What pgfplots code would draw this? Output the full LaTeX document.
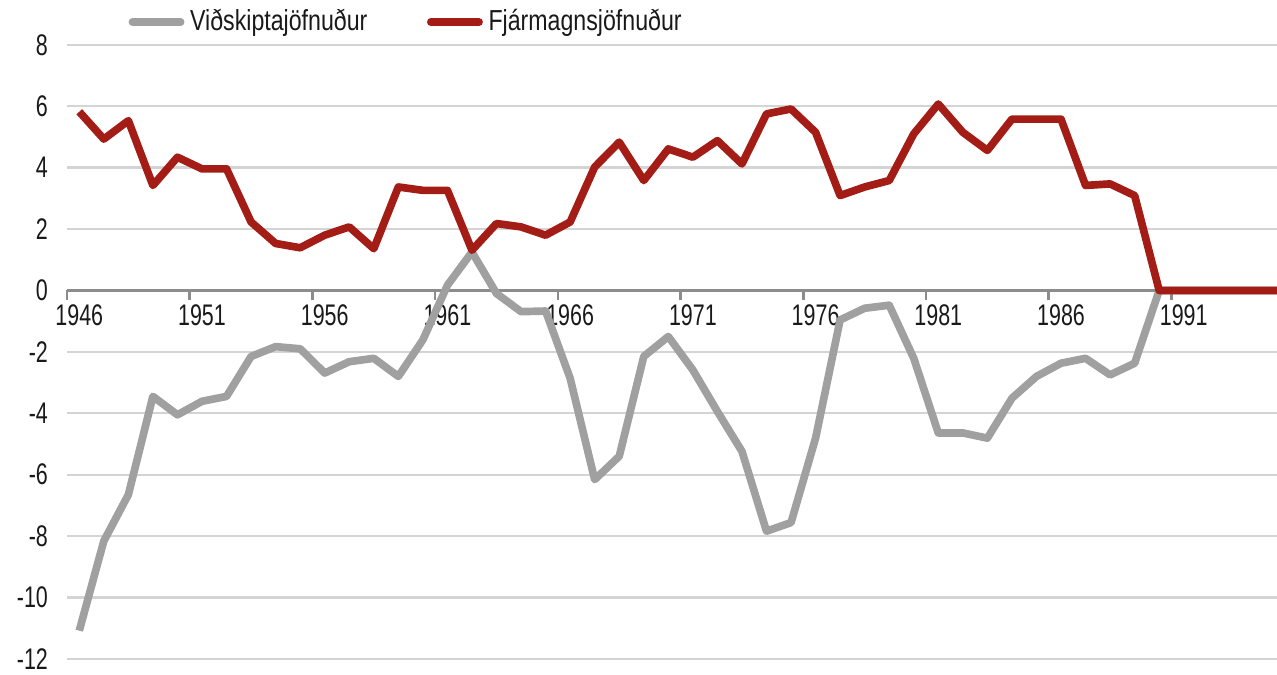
\documentclass[border=0pt]{standalone}
\usepackage{fontspec}
\setmainfont{Liberation Sans}[FakeStretch=0.72]
\newfontfamily\legfont{Liberation Sans}[FakeStretch=0.8]
\usepackage{pgfplots}
\usepackage{pgfplotstable}
\pgfplotsset{compat=1.18}
\definecolor{redline}{RGB}{163,28,22}
\definecolor{grayline}{RGB}{160,160,160}
\definecolor{gridc}{RGB}{212,212,212}
\definecolor{axisc}{RGB}{140,140,140}
\definecolor{txt}{RGB}{25,25,25}

\pgfplotstableread{
year val
1946 -11.08
1947 -8.16
1948 -6.65
1949 -3.45
1950 -4.05
1951 -3.61
1952 -3.45
1953 -2.15
1954 -1.83
1955 -1.90
1956 -2.69
1957 -2.32
1958 -2.21
1959 -2.80
1960 -1.61
1961 0.17
1962 1.25
1963 -0.10
1964 -0.69
1965 -0.67
1966 -2.86
1967 -6.16
1968 -5.40
1969 -2.15
1970 -1.50
1971 -2.59
1972 -3.94
1973 -5.24
1974 -7.84
1975 -7.56
1976 -4.81
1977 -0.96
1978 -0.58
1979 -0.48
1980 -2.21
1981 -4.64
1982 -4.64
1983 -4.81
1984 -3.51
1985 -2.80
1986 -2.37
1987 -2.21
1988 -2.75
1989 -2.37
1990 0.00
1991 0.00
1992 0.00
1993 0.00
1994 0.00
1995 0.00
}\vidskipti

\pgfplotstableread{
year val
1946 5.82
1947 4.93
1948 5.53
1949 3.42
1950 4.34
1951 3.96
1952 3.96
1953 2.23
1954 1.53
1955 1.39
1956 1.80
1957 2.07
1958 1.36
1959 3.37
1960 3.26
1961 3.26
1962 1.31
1963 2.18
1964 2.07
1965 1.80
1966 2.23
1967 4.02
1968 4.83
1969 3.58
1970 4.61
1971 4.34
1972 4.88
1973 4.12
1974 5.75
1975 5.91
1976 5.15
1977 3.09
1978 3.37
1979 3.58
1980 5.10
1981 6.07
1982 5.15
1983 4.56
1984 5.58
1985 5.58
1986 5.58
1987 3.42
1988 3.47
1989 3.09
1990 0.00
1991 0.00
1992 0.00
1993 0.00
1994 0.00
1995 0.00
}\fjarmagn

\begin{document}
\begin{tikzpicture}
\begin{axis}[
  scale only axis, width=426.36pt, height=216.4pt,
  xmin=1945.5, xmax=1994.8, ymin=-12, ymax=8,
  axis x line=middle, axis y line=left,
  x axis line style={-, draw=axisc, line width=0.9pt},
  y axis line style={draw=none},
  ytick={-12,-10,...,8},
  ymajorgrids, major grid style={draw=gridc, line width=0.8pt},
  major tick length=0pt,
  xtick={1946,1951,1956,1961,1966,1971,1976,1981,1986,1991},
  xticklabels={1946,1951,1956,1961,1966,1971,1976,1981,1986,1991},
  extra x ticks={1945.5,1950.5,1955.5,1960.5,1965.5,1970.5,1975.5,1980.5,1985.5,1990.5},
  extra x tick labels={},
  extra x tick style={major tick length=3.5pt, tick align=outside, tick style={draw=axisc, line width=0.9pt}},
  /pgf/number format/assume math mode=true,
  tick label style={font=\fontsize{10.5}{12}\selectfont, text=txt},
  yticklabel style={anchor=east, xshift=-3.2pt},
  xticklabel style={anchor=north, yshift=-1.5pt},
  legend columns=2,
  legend style={draw=none, fill=none, at={(axis description cs:0,1)}, anchor=west,
    xshift=21.5pt, yshift=8pt, inner sep=0pt,
    font=\legfont\fontsize{10.2}{12}\selectfont, text=txt,
    /tikz/every even column/.append style={column sep=19pt}},
  legend image code/.code={\draw[#1, line width=2.7pt, line cap=round] (0pt,0pt) -- (17pt,0pt);},
]
\addplot[grayline, line width=2.7pt, line join=round] table[x=year, y=val] {\vidskipti};
\addlegendentry{Viðskiptajöfnuður}
\addplot[redline, line width=2.7pt, line join=round] table[x=year, y=val] {\fjarmagn};
\addlegendentry{Fjármagnsjöfnuður}
\end{axis}
\pgfresetboundingbox
\path ([shift={(-23.61pt,-5.63pt)}]current axis.south west) rectangle ([shift={(0pt,15.79pt)}]current axis.north east);
\end{tikzpicture}
\end{document}
